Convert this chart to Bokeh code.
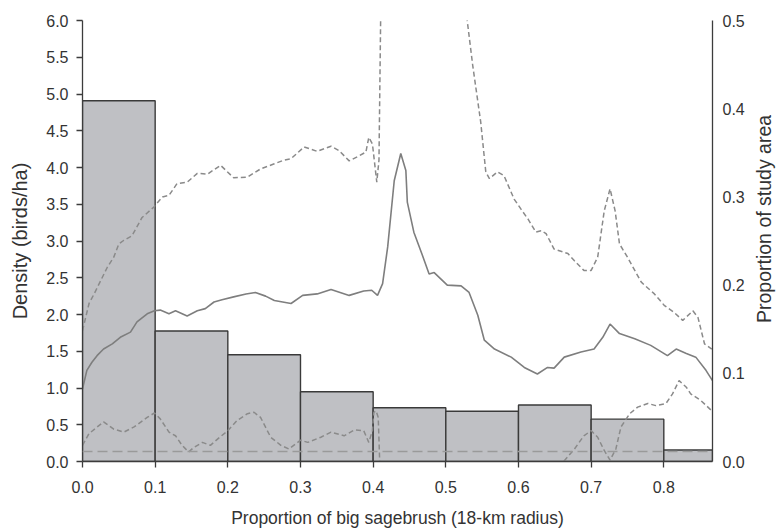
import math
from bokeh.plotting import figure
from bokeh.layouts import row
from bokeh.models import Range1d, LinearAxis, FixedTicker, PrintfTickFormatter, Span, ColumnDataSource
from bokeh.core.properties import value
from bokeh.embed import file_html
from bokeh.resources import INLINE

NAN = float("nan")

# Histogram of study-area composition (proportion of area per sagebrush class)
bin_left = [0.0, 0.1, 0.2, 0.3, 0.4, 0.5, 0.6, 0.7, 0.8]
bin_right = [0.1, 0.2, 0.3, 0.4, 0.5, 0.6, 0.7, 0.8, 0.867]
area_prop = [0.409, 0.148, 0.121, 0.079, 0.061, 0.057, 0.064, 0.048, 0.013]

# Predicted density (birds/ha) along the sagebrush gradient
mean_x = [0.000, 0.006, 0.013, 0.020, 0.029, 0.041, 0.052, 0.066, 0.075, 0.089,
          0.099, 0.107, 0.119, 0.128, 0.144, 0.158, 0.169, 0.181, 0.192, 0.208,
          0.225, 0.238, 0.252, 0.264, 0.287, 0.303, 0.323, 0.342, 0.367, 0.387,
          0.398, 0.406, 0.413, 0.420, 0.429, 0.438, 0.445, 0.447, 0.456, 0.468,
          0.477, 0.484, 0.502, 0.521, 0.532, 0.544, 0.553, 0.567, 0.590, 0.608,
          0.626, 0.640, 0.649, 0.663, 0.686, 0.704, 0.716, 0.726, 0.739, 0.760,
          0.782, 0.805, 0.817, 0.831, 0.844, 0.858, 0.867]
mean_y = [0.99, 1.24, 1.35, 1.44, 1.53, 1.60, 1.69, 1.76, 1.90, 2.01,
          2.05, 2.06, 2.01, 2.05, 1.98, 2.05, 2.08, 2.17, 2.20, 2.24,
          2.28, 2.30, 2.25, 2.19, 2.15, 2.26, 2.28, 2.34, 2.26, 2.32,
          2.33, 2.26, 2.42, 2.92, 3.82, 4.19, 3.96, 3.53, 3.12, 2.80,
          2.55, 2.57, 2.40, 2.39, 2.30, 1.99, 1.65, 1.53, 1.42, 1.28,
          1.19, 1.28, 1.27, 1.42, 1.49, 1.53, 1.69, 1.87, 1.74, 1.67,
          1.58, 1.44, 1.53, 1.47, 1.42, 1.24, 1.10]

# Upper confidence limit
upper_x = [0.000, 0.009, 0.016, 0.025, 0.034, 0.043, 0.050, 0.057, 0.068, 0.082,
           0.098, 0.110, 0.119, 0.130, 0.144, 0.158, 0.172, 0.190, 0.208, 0.227,
           0.245, 0.264, 0.277, 0.287, 0.305, 0.323, 0.342, 0.353, 0.367, 0.381,
           0.390, 0.394, 0.399, 0.405, 0.408, 0.411, NAN,
           0.522, 0.537, 0.548, 0.555, 0.560, 0.571, 0.580, 0.594, 0.603, 0.613,
           0.624, 0.631, 0.638, 0.649, 0.668, 0.677, 0.690, 0.700, 0.709, 0.718,
           0.726, 0.733, 0.739, 0.750, 0.769, 0.787, 0.801, 0.814, 0.826, 0.840,
           0.847, 0.856, 0.866]
upper_y = [1.78, 2.15, 2.28, 2.46, 2.64, 2.78, 2.96, 3.01, 3.07, 3.32,
           3.46, 3.60, 3.62, 3.78, 3.80, 3.92, 3.91, 4.03, 3.86, 3.87,
           3.98, 4.05, 4.10, 4.12, 4.28, 4.22, 4.29, 4.23, 4.09, 4.16,
           4.21, 4.41, 4.32, 3.80, 4.10, 6.60, NAN,
           6.60, 5.39, 4.62, 3.94, 3.85, 3.94, 3.89, 3.57, 3.44, 3.30,
           3.12, 3.14, 3.10, 2.89, 2.83, 2.73, 2.60, 2.60, 2.78, 3.41,
           3.71, 3.41, 2.96, 2.78, 2.44, 2.28, 2.12, 2.03, 1.92, 2.05,
           1.96, 1.60, 1.53]

# Lower confidence limit
lower_x = [0.000, 0.009, 0.029, 0.043, 0.057, 0.071, 0.089, 0.099, 0.107, 0.119,
           0.128, 0.137, 0.146, 0.153, 0.165, 0.176, 0.190, 0.199, 0.213, 0.227,
           0.236, 0.245, 0.259, 0.273, 0.284, 0.300, 0.310, 0.328, 0.342, 0.360,
           0.374, 0.387, 0.394, 0.399, 0.401, 0.404, 0.407, 0.410, NAN,
           0.660, 0.663, 0.677, 0.690, 0.700, 0.709, 0.718, 0.726, 0.734, 0.741,
           0.753, 0.764, 0.778, 0.789, 0.803, 0.812, 0.821, 0.831, 0.837, 0.851,
           0.866]
lower_y = [0.22, 0.38, 0.54, 0.44, 0.40, 0.47, 0.60, 0.66, 0.58, 0.40,
           0.35, 0.22, 0.13, 0.19, 0.26, 0.22, 0.34, 0.41, 0.56, 0.65,
           0.67, 0.60, 0.33, 0.22, 0.17, 0.29, 0.26, 0.33, 0.40, 0.35,
           0.43, 0.42, 0.26, 0.42, 0.67, 0.69, 0.60, -0.30, NAN,
           -0.10, 0.01, 0.17, 0.35, 0.42, 0.33, 0.15, 0.02, 0.17, 0.47,
           0.65, 0.74, 0.79, 0.76, 0.79, 0.92, 1.10, 1.01, 0.92, 0.83,
           0.69]

# Reference density level
ref_density = 0.135

left_ticks = [i * 0.5 for i in range(13)]
bottom_ticks = [i * 0.1 for i in range(9)]
right_ticks = [i * 0.1 for i in range(6)]

FONT = "Liberation Sans"
TXT = "#333333"
AX = "#3c3c3c"

p = figure(width=752, height=531, output_backend="svg", toolbar_location=None,
           x_range=Range1d(0, 0.867), y_range=Range1d(0, 6),
           min_border_left=82, min_border_right=40, min_border_top=20, min_border_bottom=70)
p.extra_y_ranges = {"prop": Range1d(0, 0.5)}
p.xgrid.visible = False
p.ygrid.visible = False
p.outline_line_color = None
p.background_fill_color = "white"
p.border_fill_color = "white"

bars = ColumnDataSource(dict(left=bin_left, right=bin_right, top=area_prop,
                             bottom=[0] * len(area_prop)))
p.quad(left="left", right="right", top="top", bottom="bottom", source=bars,
       y_range_name="prop", fill_color="#bfc0c4", line_color="#3a3a3a", line_width=1.4)

p.add_layout(Span(location=ref_density, dimension="width", line_color="#9a9a9a",
                  line_width=1.5, line_dash="10 5"))

p.line(upper_x, upper_y, line_color="#8a8a8a", line_width=1.5, line_dash="5 3")
p.line(lower_x, lower_y, line_color="#8a8a8a", line_width=1.5, line_dash="5 3")
p.line(mean_x, mean_y, line_color="#7e7e7e", line_width=1.6)


def style(ax, ticks, out, title_size):
    ax.ticker = FixedTicker(ticks=ticks)
    ax.formatter = PrintfTickFormatter(format="%.1f")
    ax.major_label_text_font = FONT
    ax.major_label_text_font_size = "16px"
    ax.major_label_text_color = TXT
    ax.axis_label_text_font = FONT
    ax.axis_label_text_font_size = title_size
    ax.axis_label_text_font_style = "normal"
    ax.axis_label_text_color = TXT
    ax.axis_line_color = AX
    ax.axis_line_width = 1.3
    ax.major_tick_line_color = AX
    ax.major_tick_line_width = 1.3
    ax.major_tick_out = out
    ax.major_tick_in = 0
    ax.minor_tick_line_color = None


style(p.xaxis[0], bottom_ticks, 6, "17.5px")
p.xaxis[0].axis_label = "Proportion of big sagebrush (18-km radius)"
p.xaxis[0].major_label_standoff = 13
p.xaxis[0].axis_label_standoff = 12

style(p.yaxis[0], left_ticks, 6, "20px")
p.yaxis[0].axis_label = "Density (birds/ha)"
p.yaxis[0].major_label_standoff = 8
p.yaxis[0].axis_label_standoff = 12

right = LinearAxis(y_range_name="prop")
style(right, right_ticks, 0, "20px")
right.major_label_standoff = 10
p.add_layout(right, "right")

# Narrow strip holding the right-hand title, reading bottom to top
side = figure(width=25, height=531, output_backend="svg", toolbar_location=None,
              x_range=Range1d(0, 1), y_range=Range1d(0, 1),
              x_axis_type=None, y_axis_type=None, min_border=0)
side.outline_line_color = None
side.text(x=[0.47], y=[0.55], text=["Proportion of study area"], angle=math.pi / 2,
          text_align="center", text_baseline="middle", text_font=value(FONT),
          text_font_size="19.5px", text_color=TXT)

layout = row(p, side)
open("out.html", "w").write(file_html(layout, INLINE))
